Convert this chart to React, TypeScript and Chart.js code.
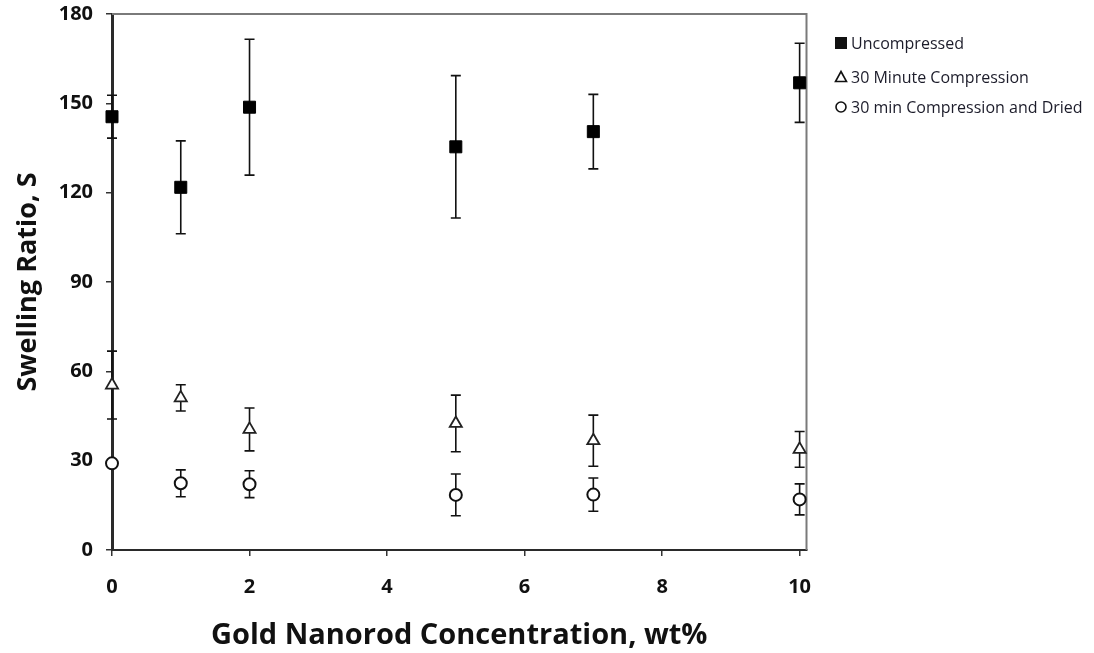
import { useEffect, useRef } from "react";
import { Chart, registerables } from "chart.js";

Chart.register(...registerables);

// Gold nanorod loading (wt%) for every sample group
const concentrations = [0, 1, 2, 5, 7, 10];

// Swelling ratio means and standard deviations per condition
const uncompressed = [145.5, 121.8, 148.7, 135.4, 140.5, 156.9];
const uncompressedErr = [7.2, 15.6, 22.8, 23.9, 12.5, 13.3];

const compressed30 = [55.4, 51.1, 40.5, 42.5, 36.7, 33.8];
const compressed30Err = [11.4, 4.4, 7.2, 9.5, 8.6, 6.0];

const compressedDried = [29.1, 22.4, 22.1, 18.5, 18.6, 17.0];
const compressedDriedErr = [0, 4.5, 4.5, 7.0, 5.6, 5.2];

const seriesLabels = ["Uncompressed", "30 Minute Compression", "30 min Compression and Dried"];

const xTicks = [0, 2, 4, 6, 8, 10];
const yTicks = [0, 30, 60, 90, 120, 150, 180];

const FONT = "'Open Sans', 'DejaVu Sans', sans-serif";
const INK = "#111111";

const toPoints = (ys: number[]) => ys.map((y, i) => ({ x: concentrations[i], y }));
const errorSets = [uncompressedErr, compressed30Err, compressedDriedErr];

// Vertical error bars with caps, drawn under the markers
const errorBarPlugin = {
  id: "errorBars",
  beforeDatasetsDraw(chart: any) {
    const { ctx, scales } = chart;
    const xs = scales.x;
    const ys = scales.y;
    ctx.save();
    ctx.strokeStyle = INK;
    ctx.lineWidth = 1.6;
    chart.data.datasets.forEach((ds: any, di: number) => {
      const errs = errorSets[di];
      ds.data.forEach((p: any, i: number) => {
        const e = errs[i];
        if (!e) return;
        const px = xs.getPixelForValue(p.x);
        const top = ys.getPixelForValue(p.y + e);
        const bot = ys.getPixelForValue(p.y - e);
        ctx.beginPath();
        ctx.moveTo(px, top);
        ctx.lineTo(px, bot);
        ctx.moveTo(px - 5, top);
        ctx.lineTo(px + 5, top);
        ctx.moveTo(px - 5, bot);
        ctx.lineTo(px + 5, bot);
        ctx.stroke();
      });
    });
    ctx.restore();
  },
};

// Grey top and right edges of the plot frame
const framePlugin = {
  id: "frame",
  beforeDatasetsDraw(chart: any) {
    const { ctx, chartArea } = chart;
    ctx.save();
    ctx.strokeStyle = "#7a7a7a";
    ctx.lineWidth = 2;
    ctx.beginPath();
    ctx.moveTo(chartArea.left, chartArea.top);
    ctx.lineTo(chartArea.right, chartArea.top);
    ctx.lineTo(chartArea.right, chartArea.bottom);
    ctx.stroke();
    ctx.restore();
  },
};

// Key at the right of the plot
const keyPlugin = {
  id: "sideKey",
  afterDraw(chart: any) {
    const { ctx } = chart;
    const rows = [43, 77, 107];
    const mx = 841;
    ctx.save();
    ctx.font = `16px ${FONT}`;
    ctx.textBaseline = "middle";
    ctx.textAlign = "left";
    chart.data.datasets.forEach((ds: any, i: number) => {
      const cy = rows[i];
      ctx.fillStyle = INK;
      ctx.strokeStyle = INK;
      ctx.lineWidth = 1.6;
      if (i === 0) {
        ctx.fillRect(mx - 6, cy - 6, 12, 12);
      } else if (i === 1) {
        ctx.beginPath();
        ctx.moveTo(mx, cy - 5.5);
        ctx.lineTo(mx + 5.5, cy + 4.5);
        ctx.lineTo(mx - 5.5, cy + 4.5);
        ctx.closePath();
        ctx.stroke();
      } else {
        ctx.beginPath();
        ctx.arc(mx, cy, 5, 0, Math.PI * 2);
        ctx.stroke();
      }
      ctx.fillStyle = "#1c1c2a";
      ctx.fillText(ds.label, 851, cy + 1);
    });
    ctx.restore();
  },
};

export default function App() {
  const canvasRef = useRef<HTMLCanvasElement | null>(null);

  useEffect(() => {
    if (!canvasRef.current) return;
    const chart = new Chart(canvasRef.current, {
      type: "scatter",
      data: {
        datasets: [
          {
            label: seriesLabels[0],
            data: toPoints(uncompressed),
            pointStyle: "rect",
            pointRadius: 8.5,
            backgroundColor: "#000",
            borderColor: "#000",
            borderWidth: 1,
            clip: false as any,
          },
          {
            label: seriesLabels[1],
            data: toPoints(compressed30),
            pointStyle: "triangle",
            pointRadius: 7,
            backgroundColor: "#fff",
            borderColor: "#222",
            borderWidth: 1.8,
            clip: false as any,
          },
          {
            label: seriesLabels[2],
            data: toPoints(compressedDried),
            pointStyle: "circle",
            pointRadius: 6,
            backgroundColor: "#fff",
            borderColor: "#111",
            borderWidth: 2,
            clip: false as any,
          },
        ],
      },
      options: {
        animation: false,
        responsive: true,
        maintainAspectRatio: false,
        layout: { padding: { left: 0, top: 14, right: 287.5, bottom: 0 } },
        plugins: {
          legend: { display: false },
          tooltip: { enabled: false },
        },
        scales: {
          x: {
            type: "linear",
            min: 0,
            max: 10.1,
            afterBuildTicks: (scale: any) => {
              scale.ticks = xTicks.map((v) => ({ value: v }));
            },
            afterFit: (scale: any) => {
              scale.height = 103;
              scale.paddingLeft = 0;
              scale.paddingRight = 0;
            },
            grid: { drawOnChartArea: false, drawTicks: true, tickLength: 6, color: "#333", lineWidth: 1.5 },
            border: { display: true, color: "#2a2a2a", width: 2 },
            ticks: {
              padding: 19,
              color: INK,
              font: { family: FONT, size: 20, weight: "bold" },
            },
            title: {
              display: true,
              text: "Gold Nanorod Concentration, wt%",
              color: INK,
              font: { family: FONT, size: 29, weight: "bold" },
              padding: { top: 0, bottom: 0 },
            },
          },
          y: {
            type: "linear",
            min: 0,
            max: 180,
            afterBuildTicks: (scale: any) => {
              scale.ticks = yTicks.map((v) => ({ value: v }));
            },
            afterFit: (scale: any) => {
              scale.width = 112;
              scale.paddingTop = 0;
              scale.paddingBottom = 0;
            },
            grid: { drawOnChartArea: false, drawTicks: true, tickLength: 6, color: "#333", lineWidth: 1.5 },
            border: { display: true, color: "#2a2a2a", width: 3 },
            ticks: {
              padding: 13,
              color: INK,
              font: { family: FONT, size: 20, weight: "bold" },
            },
            title: {
              display: true,
              text: "Swelling Ratio, S",
              color: INK,
              font: { family: FONT, size: 27, weight: "bold" },
              padding: { top: 12, bottom: 0 },
            },
          },
        },
      },
      plugins: [framePlugin, errorBarPlugin, keyPlugin],
    });
    return () => chart.destroy();
  }, []);

  return (
    <div style={{ position: "fixed", left: 0, top: 0, width: 1094, height: 653, background: "#fff" }}>
      <canvas ref={canvasRef} />
    </div>
  );
}
